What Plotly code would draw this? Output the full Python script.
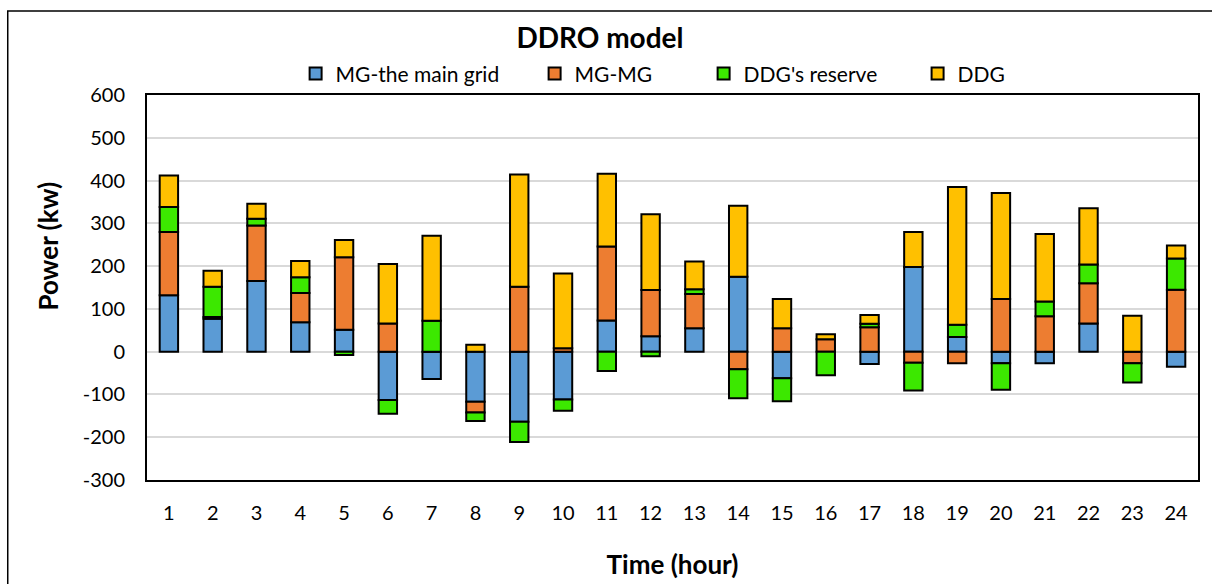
import plotly.graph_objects as go

hours = [str(h) for h in range(1, 25)]

mg_main_grid = [132, 77, 165, 69, 51, -113, -64, -117, -164, -112, 73, 36,
                55, 175, -62, 0, -29, 198, 34, -27, -27, 66, 0, -35]
mg_mg = [148, 4, 130, 68, 170, 66, 0, -25, 152, 8, 173, 108,
         80, -41, 55, 29, 57, -26, -27, 123, 83, 94, -27, 145]
ddg_reserve = [58, 71, 16, 37, -8, -32, 72, -20, -47, -26, -45, -11,
               11, -68, -54, -55, 8, -65, 29, -62, 34, 44, -45, 73]
ddg = [74, 37, 35, 38, 40, 139, 199, 16, 262, 175, 170, 177,
       65, 166, 68, 12, 21, 82, 322, 248, 158, 131, 84, 30]

y_tick_vals = [600, 500, 400, 300, 200, 100, 0, -100, -200, -300]
y_tick_text = ["600", "500", "400", "300", "200", "100", "0", "-100", "-200", "-300"]

series = [
    ("MG-the main grid", mg_main_grid, "#5B9BD5"),
    ("MG-MG", mg_mg, "#ED7D31"),
    ("DDG's reserve", ddg_reserve, "#3CE800"),
    ("DDG", ddg, "#FFC000"),
]

FONT = "Lato, Calibri, Carlito, sans-serif"

legend_ids = ["legend", "legend2", "legend3", "legend4"]
legend_x = [0.1414, 0.3688, 0.5296, 0.7332]

fig = go.Figure()
for (name, vals, color), lid in zip(series, legend_ids):
    fig.add_trace(go.Bar(
        x=hours, y=vals, name=name, legend=lid, showlegend=True,
        marker=dict(color=color, line=dict(color="black", width=2)),
        width=0.42,
    ))

legend_common = dict(orientation="h", xanchor="left", y=1.055, yanchor="middle",
                     font=dict(size=21, family=FONT), bgcolor="rgba(0,0,0,0)",
                     itemwidth=30)

fig.update_layout(
    barmode="relative",
    showlegend=True,
    width=1212, height=584,
    margin=dict(l=147, r=14, t=95, b=104, autoexpand=False),
    paper_bgcolor="white", plot_bgcolor="white",
    font=dict(family=FONT, size=19, color="black"),
    title=dict(text="<b>DDRO model</b>", x=0.495, xanchor="center",
               y=0.935, yanchor="middle", font=dict(size=28, family=FONT)),
    xaxis=dict(
        title=dict(text="<b>Time (hour)</b>", font=dict(size=26), standoff=33),
        automargin=False,
        showgrid=False, showline=True, linecolor="black", linewidth=2,
        mirror=True, ticks="", ticklabelstandoff=14,
        tickfont=dict(size=20),
    ),
    yaxis=dict(
        automargin=False,
        range=[-300, 600], tickvals=y_tick_vals, ticktext=y_tick_text,
        showgrid=True, gridcolor="#D9D9D9",
        gridwidth=1.5, zeroline=True, zerolinecolor="#D9D9D9", zerolinewidth=1.5,
        showline=True, linecolor="black", linewidth=2, mirror=True,
        ticks="", ticklabelstandoff=16, tickfont=dict(size=20),
    ),
    annotations=[dict(text="<b>Power (kw)</b>", textangle=-90,
                      xref="paper", yref="paper", x=-0.0945, y=0.608,
                      xanchor="center", yanchor="middle", showarrow=False,
                      font=dict(size=26, family=FONT))],
    shapes=[dict(type="rect", xref="paper", yref="paper",
                 x0=-0.1325, x1=1.05, y0=-0.5, y1=1.218,
                 line=dict(color="black", width=1.5), layer="below")],
)
for lid, lx in zip(legend_ids, legend_x):
    fig.update_layout({lid: dict(legend_common, x=lx)})

fig.write_html("out.html")
